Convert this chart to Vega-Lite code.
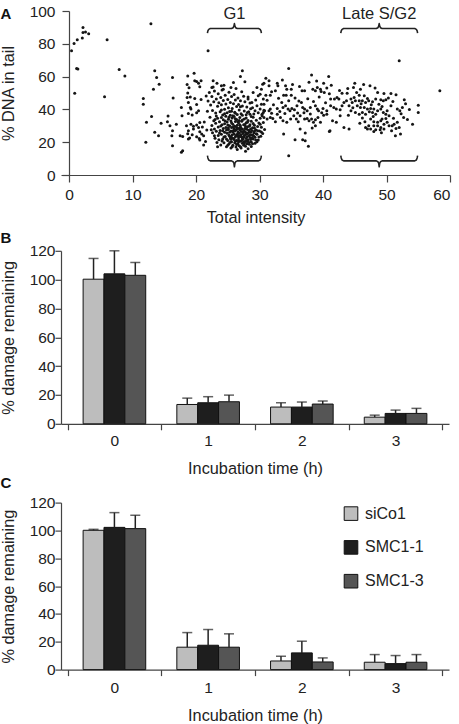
{
  "$schema": "https://vega.github.io/schema/vega-lite/v6.json",
  "padding": {"left": 0, "top": 4, "right": 4, "bottom": 0},
  "config": {
    "font": "Liberation Sans",
    "view": {"stroke": null},
    "axis": {"grid": false, "labelOverlap": false, "labelFontSize": 15.5, "titleFontSize": 16.3, "titleFontWeight": "normal", "labelColor": "#222", "titleColor": "#222", "domainColor": "#444", "tickColor": "#444", "domainWidth": 1.2, "tickWidth": 1.2, "tickSize": 6},
    "title": {"fontSize": 15, "fontWeight": "bold", "anchor": "start", "color": "#111", "frame": "bounds"},
    "legend": {"labelFontSize": 16, "labelColor": "#222", "symbolType": "square", "symbolSize": 185, "symbolStrokeColor": "#111", "symbolStrokeWidth": 1, "rowPadding": 15.8, "labelOffset": 6, "padding": 0}
  },
  "datasets": {
    "scatter": [
      {"intensity":0.4,"dna":75.7},{"intensity":0.8,"dna":80.2},{"intensity":1.3,"dna":82.4},{"intensity":2.2,"dna":89.9},{"intensity":2.2,"dna":86.9},{"intensity":2.6,"dna":87.2},{"intensity":3.1,"dna":86.2},{"intensity":2.1,"dna":83.5},{"intensity":1.2,"dna":64.9},{"intensity":1.4,"dna":64.6},{"intensity":0.9,"dna":49.9},{"intensity":6.0,"dna":82.4},{"intensity":5.6,"dna":47.7},{"intensity":7.9,"dna":64.3},{"intensity":8.8,"dna":60.4},{"intensity":12.9,"dna":92.3},{"intensity":11.7,"dna":46.7},{"intensity":11.7,"dna":43.2},{"intensity":13.5,"dna":63.5},{"intensity":13.8,"dna":59.5},{"intensity":13.3,"dna":52.3},{"intensity":14.2,"dna":55.4},{"intensity":12.1,"dna":19.9},{"intensity":12.2,"dna":32.1},{"intensity":13.0,"dna":35.7},{"intensity":13.5,"dna":26.0},{"intensity":14.1,"dna":23.9},{"intensity":14.5,"dna":31.5},{"intensity":16.3,"dna":59.5},{"intensity":16.4,"dna":46.9},{"intensity":15.5,"dna":32.4},{"intensity":15.9,"dna":30.0},{"intensity":16.3,"dna":27.0},{"intensity":16.2,"dna":24.0},{"intensity":16.3,"dna":17.8},{"intensity":16.9,"dna":31.0},{"intensity":17.7,"dna":41.2},{"intensity":17.8,"dna":36.1},{"intensity":17.5,"dna":23.9},{"intensity":17.7,"dna":13.8},{"intensity":15.6,"dna":36.0},{"intensity":17.9,"dna":23.5},
      {"intensity":18.7,"dna":60.4},{"intensity":18.6,"dna":55.2},{"intensity":18.9,"dna":53.2},{"intensity":19.7,"dna":62.0},{"intensity":20.8,"dna":57.4},{"intensity":20.1,"dna":57.0},{"intensity":20.6,"dna":53.8},{"intensity":18.7,"dna":50.0},{"intensity":19.1,"dna":47.5},{"intensity":19.2,"dna":40.3},{"intensity":18.8,"dna":37.5},{"intensity":19.4,"dna":36.6},{"intensity":20.1,"dna":43.0},{"intensity":20.8,"dna":46.0},{"intensity":20.1,"dna":38.0},{"intensity":19.2,"dna":31.0},{"intensity":19.6,"dna":29.8},{"intensity":20.1,"dna":30.5},{"intensity":18.7,"dna":25.1},{"intensity":19.0,"dna":22.6},{"intensity":19.4,"dna":24.6},{"intensity":20.1,"dna":23.3},{"intensity":20.5,"dna":22.3},{"intensity":20.6,"dna":26.4},{"intensity":21.0,"dna":29.3},{"intensity":21.3,"dna":32.3},{"intensity":20.6,"dna":21.3},{"intensity":21.2,"dna":24.0},{"intensity":21.5,"dna":20.5},{"intensity":21.2,"dna":18.3},{"intensity":21.7,"dna":27.5},
      {"intensity":19.8,"dna":57.4},{"intensity":20.4,"dna":56.0},{"intensity":22.7,"dna":57.4},{"intensity":22.5,"dna":53.4},{"intensity":24.0,"dna":54.4},{"intensity":24.3,"dna":52.3},{"intensity":25.9,"dna":56.4},{"intensity":27.3,"dna":63.5},{"intensity":27.0,"dna":60.1},{"intensity":27.7,"dna":56.8},{"intensity":29.6,"dna":53.4},{"intensity":30.5,"dna":55.4},{"intensity":30.3,"dna":52.3},{"intensity":30.1,"dna":49.3},{"intensity":30.6,"dna":46.3},{"intensity":18.6,"dna":47.3},{"intensity":18.8,"dna":44.2},{"intensity":19.8,"dna":46.7},{"intensity":19.1,"dna":41.2},{"intensity":20.4,"dna":39.2},{"intensity":18.5,"dna":30.0},{"intensity":18.8,"dna":27.0},{"intensity":19.6,"dna":28.0},{"intensity":20.4,"dna":29.0},{"intensity":20.6,"dna":32.0},{"intensity":20.9,"dna":25.0},{"intensity":18.8,"dna":22.0},{"intensity":17.9,"dna":14.8},{"intensity":21.9,"dna":75.7},
      {"intensity":21.6,"dna":48.2},{"intensity":21.9,"dna":45.1},{"intensity":22.1,"dna":50.3},{"intensity":22.3,"dna":42.7},{"intensity":22.5,"dna":47.8},{"intensity":22.6,"dna":39.4},{"intensity":22.8,"dna":44.6},{"intensity":22.9,"dna":51.2},{"intensity":23.1,"dna":37.8},{"intensity":23.2,"dna":46.3},{"intensity":23.4,"dna":41.9},{"intensity":23.5,"dna":49.6},{"intensity":23.6,"dna":44.0},{"intensity":23.8,"dna":38.5},{"intensity":23.9,"dna":47.2},{"intensity":24.0,"dna":42.8},{"intensity":24.1,"dna":51.9},{"intensity":24.2,"dna":36.6},{"intensity":24.3,"dna":45.5},{"intensity":24.5,"dna":40.1},{"intensity":24.6,"dna":48.7},{"intensity":24.7,"dna":43.3},{"intensity":24.9,"dna":37.9},{"intensity":25.0,"dna":46.1},{"intensity":25.1,"dna":41.0},{"intensity":25.2,"dna":50.4},{"intensity":25.3,"dna":38.7},{"intensity":25.4,"dna":44.2},{"intensity":25.6,"dna":47.9},{"intensity":25.7,"dna":40.6},{"intensity":25.8,"dna":36.2},{"intensity":25.9,"dna":43.5},{"intensity":26.0,"dna":49.1},{"intensity":26.1,"dna":38.3},{"intensity":26.2,"dna":45.8},{"intensity":26.4,"dna":41.7},{"intensity":26.5,"dna":36.9},{"intensity":26.6,"dna":47.0},{"intensity":26.7,"dna":43.0},{"intensity":26.8,"dna":39.6},{"intensity":27.0,"dna":45.3},{"intensity":27.1,"dna":37.4},{"intensity":27.2,"dna":50.8},{"intensity":27.3,"dna":42.1},{"intensity":27.5,"dna":48.0},{"intensity":27.6,"dna":39.0},{"intensity":27.7,"dna":44.7},{"intensity":27.9,"dna":36.8},{"intensity":28.0,"dna":41.5},{"intensity":28.2,"dna":47.5},{"intensity":28.3,"dna":38.6},{"intensity":28.5,"dna":43.9},{"intensity":22.2,"dna":35.2},{"intensity":23.0,"dna":33.8},{"intensity":21.8,"dna":38.9},{"intensity":22.7,"dna":53.6},{"intensity":24.4,"dna":54.8},{"intensity":26.3,"dna":52.7},{"intensity":25.5,"dna":53.4},{"intensity":23.3,"dna":55.9},
      {"intensity":22.5,"dna":30.2},{"intensity":22.6,"dna":25.8},{"intensity":22.8,"dna":33.1},{"intensity":22.9,"dna":28.0},{"intensity":23.0,"dna":22.4},{"intensity":23.1,"dna":31.5},{"intensity":23.2,"dna":26.7},{"intensity":23.3,"dna":19.8},{"intensity":23.4,"dna":34.6},{"intensity":23.5,"dna":24.1},{"intensity":23.5,"dna":29.3},
      {"intensity":23.6,"dna":21.5},{"intensity":23.7,"dna":32.4},{"intensity":23.8,"dna":27.2},{"intensity":23.9,"dna":18.3},{"intensity":24.0,"dna":35.1},{"intensity":24.0,"dna":24.9},{"intensity":24.1,"dna":30.6},{"intensity":24.2,"dna":22.0},{"intensity":24.3,"dna":28.4},{"intensity":24.3,"dna":33.7},{"intensity":24.4,"dna":19.6},{"intensity":24.5,"dna":26.1},{"intensity":24.5,"dna":31.2},
      {"intensity":24.6,"dna":23.4},{"intensity":24.7,"dna":35.8},{"intensity":24.7,"dna":29.0},{"intensity":24.8,"dna":17.2},{"intensity":24.9,"dna":25.5},{"intensity":24.9,"dna":32.3},{"intensity":25.0,"dna":21.1},{"intensity":25.1,"dna":27.8},{"intensity":25.1,"dna":34.0},{"intensity":25.2,"dna":19.0},{"intensity":25.2,"dna":24.3},{"intensity":25.3,"dna":30.1},{"intensity":25.4,"dna":22.6},{"intensity":25.4,"dna":36.5},{"intensity":25.5,"dna":26.8},{"intensity":25.5,"dna":32.9},{"intensity":25.5,"dna":16.4},
      {"intensity":25.6,"dna":20.2},{"intensity":25.6,"dna":28.9},{"intensity":25.7,"dna":24.6},{"intensity":25.7,"dna":34.7},{"intensity":25.8,"dna":18.1},{"intensity":25.8,"dna":31.0},{"intensity":25.9,"dna":22.3},{"intensity":25.9,"dna":27.1},{"intensity":26.0,"dna":35.6},{"intensity":26.0,"dna":25.0},{"intensity":26.1,"dna":19.7},{"intensity":26.1,"dna":29.8},{"intensity":26.2,"dna":23.2},{"intensity":26.2,"dna":32.6},{"intensity":26.3,"dna":17.0},{"intensity":26.3,"dna":27.4},{"intensity":26.4,"dna":21.0},{"intensity":26.4,"dna":33.9},{"intensity":26.5,"dna":24.8},{"intensity":26.5,"dna":30.4},{"intensity":26.5,"dna":15.6},
      {"intensity":26.6,"dna":19.1},{"intensity":26.6,"dna":26.2},{"intensity":26.7,"dna":22.7},{"intensity":26.7,"dna":31.8},{"intensity":26.8,"dna":28.5},{"intensity":26.8,"dna":17.9},{"intensity":26.9,"dna":24.0},{"intensity":26.9,"dna":35.0},{"intensity":27.0,"dna":20.6},{"intensity":27.0,"dna":29.9},{"intensity":27.1,"dna":26.6},{"intensity":27.1,"dna":16.5},{"intensity":27.2,"dna":23.1},{"intensity":27.2,"dna":32.8},{"intensity":27.3,"dna":19.4},{"intensity":27.3,"dna":27.9},{"intensity":27.4,"dna":21.8},{"intensity":27.4,"dna":25.3},{"intensity":27.5,"dna":30.7},{"intensity":27.5,"dna":18.2},
      {"intensity":27.6,"dna":23.9},{"intensity":27.6,"dna":34.1},{"intensity":27.7,"dna":20.4},{"intensity":27.7,"dna":28.3},{"intensity":27.8,"dna":26.0},{"intensity":27.8,"dna":17.5},{"intensity":27.9,"dna":31.9},{"intensity":27.9,"dna":22.2},{"intensity":28.0,"dna":19.0},{"intensity":28.0,"dna":25.1},{"intensity":28.1,"dna":29.4},{"intensity":28.2,"dna":21.5},{"intensity":28.2,"dna":33.3},{"intensity":28.3,"dna":24.0},{"intensity":28.3,"dna":27.3},{"intensity":28.4,"dna":18.8},{"intensity":28.5,"dna":30.6},{"intensity":28.5,"dna":22.9},
      {"intensity":28.6,"dna":26.1},{"intensity":28.7,"dna":20.1},{"intensity":28.7,"dna":32.7},{"intensity":28.8,"dna":24.4},{"intensity":28.9,"dna":28.8},{"intensity":29.0,"dna":21.9},{"intensity":29.0,"dna":35.2},{"intensity":29.1,"dna":25.7},{"intensity":29.2,"dna":30.3},{"intensity":29.3,"dna":23.0},{"intensity":29.3,"dna":19.3},{"intensity":29.4,"dna":27.6},{"intensity":29.5,"dna":33.4},
      {"intensity":29.6,"dna":24.8},{"intensity":29.7,"dna":29.6},{"intensity":29.8,"dna":21.4},{"intensity":29.9,"dna":31.7},{"intensity":30.0,"dna":26.9},{"intensity":30.1,"dna":34.6},{"intensity":30.2,"dna":23.6},{"intensity":30.3,"dna":29.1},{"intensity":30.5,"dna":25.3},{"intensity":30.6,"dna":32.0},{"intensity":30.8,"dna":27.8},{"intensity":30.4,"dna":37.0},{"intensity":29.8,"dna":37.9},{"intensity":30.7,"dna":39.5},
      {"intensity":25.3,"dna":23.7},{"intensity":25.8,"dna":26.3},{"intensity":26.2,"dna":20.4},{"intensity":26.6,"dna":24.0},{"intensity":26.9,"dna":27.6},{"intensity":27.3,"dna":22.5},{"intensity":27.6,"dna":26.9},{"intensity":28.0,"dna":23.3},{"intensity":28.4,"dna":26.4},{"intensity":28.8,"dna":22.6},{"intensity":26.0,"dna":28.2},{"intensity":26.7,"dna":21.3},{"intensity":27.1,"dna":24.6},{"intensity":27.8,"dna":29.6},{"intensity":28.6,"dna":28.0},{"intensity":29.2,"dna":26.7},{"intensity":25.5,"dna":21.8},{"intensity":26.4,"dna":28.9},{"intensity":27.5,"dna":20.0},{"intensity":28.1,"dna":20.8},{"intensity":29.0,"dna":24.2},{"intensity":26.8,"dna":33.2},{"intensity":27.9,"dna":34.7},{"intensity":28.7,"dna":17.4},{"intensity":29.6,"dna":20.3},{"intensity":25.1,"dna":28.8},{"intensity":27.8,"dna":14.5},{"intensity":28.2,"dna":16.0},
      {"intensity":23.7,"dna":25.6},{"intensity":23.9,"dna":29.9},{"intensity":24.1,"dna":20.8},{"intensity":24.2,"dna":27.0},{"intensity":24.4,"dna":23.2},{"intensity":24.6,"dna":33.0},{"intensity":24.8,"dna":21.9},{"intensity":24.8,"dna":27.5},{"intensity":25.0,"dna":30.5},{"intensity":25.0,"dna":18.2},{"intensity":25.2,"dna":35.2},{"intensity":25.3,"dna":26.1},{"intensity":25.4,"dna":20.0},{"intensity":25.6,"dna":23.0},{"intensity":25.6,"dna":31.8},{"intensity":25.7,"dna":17.3},{"intensity":25.9,"dna":29.4},{"intensity":26.0,"dna":21.6},{"intensity":26.1,"dna":26.8},{"intensity":26.2,"dna":34.3},{"intensity":26.3,"dna":24.1},{"intensity":26.4,"dna":18.6},{"intensity":26.5,"dna":28.1},{"intensity":26.6,"dna":32.4},{"intensity":26.7,"dna":20.2},{"intensity":26.8,"dna":25.4},{"intensity":26.9,"dna":30.6},{"intensity":27.0,"dna":17.2},{"intensity":27.0,"dna":23.5},{"intensity":27.1,"dna":28.7},{"intensity":27.2,"dna":21.0},{"intensity":27.3,"dna":33.5},{"intensity":27.4,"dna":26.3},{"intensity":27.5,"dna":23.0},{"intensity":27.6,"dna":19.1},{"intensity":27.7,"dna":30.8},{"intensity":27.8,"dna":24.7},{"intensity":27.9,"dna":20.6},{"intensity":28.0,"dna":27.9},{"intensity":28.1,"dna":32.2},{"intensity":28.2,"dna":25.6},{"intensity":28.3,"dna":19.9},{"intensity":28.4,"dna":29.8},{"intensity":28.5,"dna":24.6},{"intensity":28.6,"dna":21.6},{"intensity":28.7,"dna":35.6},{"intensity":28.8,"dna":27.2},{"intensity":28.9,"dna":19.0},{"intensity":29.0,"dna":31.4},{"intensity":29.1,"dna":23.6},{"intensity":29.2,"dna":28.6},{"intensity":29.4,"dna":21.3},{"intensity":29.5,"dna":25.1},{"intensity":29.7,"dna":27.0},{"intensity":29.9,"dna":23.1},{"intensity":30.1,"dna":30.9},{"intensity":30.3,"dna":26.2},{"intensity":24.5,"dna":37.4},{"intensity":25.6,"dna":38.9},{"intensity":27.3,"dna":36.4},{"intensity":28.1,"dna":38.1},{"intensity":26.2,"dna":37.6},{"intensity":23.2,"dna":36.0},{"intensity":24.0,"dna":39.7},{"intensity":29.1,"dna":37.2},{"intensity":28.6,"dna":40.4},{"intensity":27.0,"dna":41.6},{"intensity":22.9,"dna":23.9},{"intensity":23.4,"dna":17.2},{"intensity":22.4,"dna":27.6},
      {"intensity":28.2,"dna":46.3},{"intensity":28.8,"dna":44.2},{"intensity":29.6,"dna":42.2},{"intensity":30.1,"dna":40.2},{"intensity":30.6,"dna":38.1},{"intensity":29.8,"dna":48.3},{"intensity":29.0,"dna":50.3},{"intensity":30.3,"dna":43.2},{"intensity":29.3,"dna":39.2},{"intensity":28.5,"dna":37.1},{"intensity":28.9,"dna":41.0},{"intensity":29.4,"dna":45.7},
      {"intensity":30.7,"dna":56.0},{"intensity":31.5,"dna":57.4},{"intensity":31.5,"dna":54.4},{"intensity":32.8,"dna":56.0},{"intensity":32.9,"dna":54.4},{"intensity":32.5,"dna":51.3},{"intensity":31.9,"dna":50.7},{"intensity":31.0,"dna":48.7},{"intensity":31.7,"dna":48.7},{"intensity":34.1,"dna":54.4},{"intensity":34.3,"dna":52.3},{"intensity":35.0,"dna":52.3},{"intensity":33.8,"dna":48.7},{"intensity":34.2,"dna":48.7},{"intensity":35.0,"dna":48.7},{"intensity":36.7,"dna":51.3},{"intensity":37.1,"dna":51.3},{"intensity":38.4,"dna":52.3},{"intensity":38.8,"dna":51.3},{"intensity":39.1,"dna":53.4},{"intensity":39.6,"dna":52.3},{"intensity":39.7,"dna":50.9},{"intensity":40.2,"dna":50.3},{"intensity":40.6,"dna":53.0},{"intensity":41.3,"dna":54.8},{"intensity":41.2,"dna":46.3},{"intensity":41.8,"dna":46.3},{"intensity":42.2,"dna":47.3},{"intensity":42.5,"dna":46.3},{"intensity":43.0,"dna":49.9},
      {"intensity":30.7,"dna":43.2},{"intensity":30.8,"dna":39.2},{"intensity":31.5,"dna":39.2},{"intensity":31.7,"dna":40.2},{"intensity":32.8,"dna":40.6},{"intensity":33.5,"dna":44.2},{"intensity":33.7,"dna":41.2},{"intensity":34.1,"dna":42.2},{"intensity":34.5,"dna":40.2},{"intensity":34.8,"dna":39.2},{"intensity":35.1,"dna":40.6},{"intensity":35.5,"dna":39.8},{"intensity":35.9,"dna":42.2},{"intensity":36.6,"dna":44.2},{"intensity":36.8,"dna":41.2},{"intensity":37.1,"dna":40.2},{"intensity":37.5,"dna":39.2},{"intensity":38.0,"dna":41.2},{"intensity":38.8,"dna":42.2},{"intensity":39.1,"dna":40.2},{"intensity":39.3,"dna":39.2},{"intensity":40.0,"dna":40.6},{"intensity":40.6,"dna":39.2},{"intensity":41.2,"dna":42.2},{"intensity":41.7,"dna":41.2},{"intensity":42.1,"dna":40.2},{"intensity":42.7,"dna":39.8},{"intensity":43.0,"dna":42.2},
      {"intensity":30.4,"dna":36.1},{"intensity":30.7,"dna":35.1},{"intensity":31.2,"dna":34.1},{"intensity":31.7,"dna":35.1},{"intensity":32.1,"dna":34.5},{"intensity":32.5,"dna":32.5},{"intensity":32.8,"dna":37.1},{"intensity":33.3,"dna":35.1},{"intensity":33.7,"dna":33.1},{"intensity":34.3,"dna":32.1},{"intensity":34.9,"dna":34.1},{"intensity":35.4,"dna":36.1},{"intensity":35.8,"dna":34.1},{"intensity":36.1,"dna":32.5},{"intensity":36.4,"dna":36.1},{"intensity":37.1,"dna":34.1},{"intensity":37.5,"dna":34.5},{"intensity":37.8,"dna":33.1},{"intensity":38.2,"dna":34.1},{"intensity":38.5,"dna":32.1},{"intensity":38.8,"dna":33.7},{"intensity":39.2,"dna":35.1},{"intensity":39.6,"dna":32.1},{"intensity":40.1,"dna":36.5},{"intensity":40.6,"dna":37.1},{"intensity":41.5,"dna":33.1},{"intensity":42.1,"dna":32.1},{"intensity":42.7,"dna":36.1},
      {"intensity":33.8,"dna":25.0},{"intensity":35.6,"dna":21.5},{"intensity":36.4,"dna":28.0},{"intensity":36.8,"dna":21.5},{"intensity":37.2,"dna":25.6},{"intensity":37.7,"dna":17.5},{"intensity":38.3,"dna":28.6},{"intensity":38.8,"dna":30.0},{"intensity":41.1,"dna":27.0},{"intensity":34.6,"dna":11.8},{"intensity":37.2,"dna":20.9},{"intensity":41.0,"dna":26.6},
      {"intensity":31.2,"dna":45.6},{"intensity":32.2,"dna":42.9},{"intensity":33.0,"dna":46.8},{"intensity":34.6,"dna":45.3},{"intensity":35.6,"dna":47.0},{"intensity":36.2,"dna":45.1},{"intensity":37.6,"dna":46.5},{"intensity":38.5,"dna":44.8},{"intensity":39.4,"dna":47.6},{"intensity":40.4,"dna":44.0},{"intensity":41.0,"dna":49.5},{"intensity":36.0,"dna":37.8},{"intensity":37.0,"dna":38.0},{"intensity":38.0,"dna":37.2},{"intensity":39.8,"dna":38.0},{"intensity":33.2,"dna":38.7},{"intensity":34.0,"dna":37.5},{"intensity":31.9,"dna":37.6},{"intensity":35.2,"dna":55.2},{"intensity":36.3,"dna":54.0},{"intensity":37.8,"dna":56.6},{"intensity":39.0,"dna":57.3},{"intensity":40.1,"dna":56.0},{"intensity":33.6,"dna":57.9},{"intensity":31.0,"dna":59.0},
      {"intensity":34.6,"dna":64.9},{"intensity":38.2,"dna":61.0},{"intensity":40.9,"dna":60.1},{"intensity":52.0,"dna":69.6},{"intensity":58.4,"dna":51.3},
      {"intensity":44.8,"dna":53.4},{"intensity":43.8,"dna":49.9},{"intensity":45.3,"dna":50.3},{"intensity":45.9,"dna":52.3},{"intensity":47.4,"dna":54.4},{"intensity":48.6,"dna":50.3},{"intensity":49.6,"dna":49.7},{"intensity":50.7,"dna":49.7},{"intensity":46.5,"dna":48.3},{"intensity":47.0,"dna":46.7},{"intensity":45.7,"dna":48.7},{"intensity":44.9,"dna":47.3},{"intensity":44.4,"dna":46.3},{"intensity":43.7,"dna":45.2},{"intensity":43.3,"dna":44.2},{"intensity":44.1,"dna":42.2},{"intensity":44.6,"dna":44.2},{"intensity":45.1,"dna":45.2},{"intensity":45.7,"dna":45.2},{"intensity":46.2,"dna":45.2},{"intensity":46.7,"dna":44.2},{"intensity":47.2,"dna":45.2},{"intensity":47.8,"dna":44.6},{"intensity":48.3,"dna":46.3},{"intensity":49.1,"dna":45.9},{"intensity":49.5,"dna":45.2},{"intensity":49.9,"dna":45.9},{"intensity":52.8,"dna":45.9},{"intensity":55.0,"dna":42.6},{"intensity":55.0,"dna":38.1},{"intensity":50.7,"dna":42.2},{"intensity":51.7,"dna":40.2},{"intensity":52.1,"dna":39.2},{"intensity":52.5,"dna":41.2},{"intensity":45.4,"dna":42.2},{"intensity":45.9,"dna":41.2},{"intensity":46.5,"dna":41.2},{"intensity":47.0,"dna":40.2},{"intensity":47.5,"dna":40.6},{"intensity":48.0,"dna":40.2},{"intensity":48.6,"dna":39.2},{"intensity":49.1,"dna":40.2},{"intensity":49.5,"dna":38.1},{"intensity":50.1,"dna":39.2},{"intensity":49.9,"dna":37.1},{"intensity":44.4,"dna":39.2},{"intensity":45.1,"dna":38.1},{"intensity":45.7,"dna":37.1},{"intensity":46.2,"dna":38.1},{"intensity":46.7,"dna":37.1},{"intensity":47.3,"dna":38.5},{"intensity":47.8,"dna":38.1},{"intensity":48.3,"dna":37.1},{"intensity":50.4,"dna":36.1},{"intensity":49.9,"dna":34.5},{"intensity":49.3,"dna":34.1},{"intensity":49.1,"dna":33.1},{"intensity":48.6,"dna":32.1},{"intensity":48.0,"dna":32.5},{"intensity":47.5,"dna":34.1},{"intensity":48.0,"dna":30.0},{"intensity":48.6,"dna":30.0},{"intensity":49.1,"dna":29.0},{"intensity":49.6,"dna":31.0},{"intensity":50.1,"dna":32.1},{"intensity":50.4,"dna":30.0},{"intensity":47.2,"dna":30.0},{"intensity":46.7,"dna":29.0},{"intensity":47.0,"dna":28.0},{"intensity":47.5,"dna":28.0},{"intensity":48.3,"dna":27.6},{"intensity":49.0,"dna":27.6},{"intensity":49.6,"dna":28.0},{"intensity":50.9,"dna":30.0},{"intensity":51.2,"dna":31.0},{"intensity":51.7,"dna":32.1},{"intensity":52.0,"dna":29.0},{"intensity":52.7,"dna":35.1},{"intensity":54.1,"dna":31.0},{"intensity":51.4,"dna":24.0},{"intensity":52.2,"dna":25.0},{"intensity":45.8,"dna":31.6},{"intensity":44.1,"dna":28.0},{"intensity":43.3,"dna":29.0},
      {"intensity":42.6,"dna":51.5},{"intensity":43.9,"dna":52.8},{"intensity":46.4,"dna":55.2},{"intensity":45.0,"dna":56.0},{"intensity":48.2,"dna":53.0},{"intensity":51.5,"dna":49.0},{"intensity":50.3,"dna":47.0},{"intensity":51.0,"dna":44.8},{"intensity":48.8,"dna":43.2},{"intensity":46.0,"dna":43.4},{"intensity":44.7,"dna":41.0},{"intensity":47.6,"dna":42.9},{"intensity":49.3,"dna":41.7},{"intensity":44.0,"dna":36.5},{"intensity":46.2,"dna":34.8},{"intensity":47.9,"dna":35.7},{"intensity":51.1,"dna":34.6},{"intensity":52.3,"dna":37.4},{"intensity":53.0,"dna":43.5},{"intensity":53.6,"dna":39.9},{"intensity":46.6,"dna":32.4},{"intensity":50.8,"dna":27.0},{"intensity":49.2,"dna":25.8},{"intensity":48.0,"dna":26.5},{"intensity":51.5,"dna":28.3},{"intensity":53.3,"dna":33.8}
    ],
    "braces": [
      {"brace":"g1top","order":1,"intensity":21.8,"dna":86.5},{"brace":"g1top","order":2,"intensity":21.87,"dna":87.9},{"brace":"g1top","order":3,"intensity":22.0,"dna":88.8},{"brace":"g1top","order":4,"intensity":22.25,"dna":89.3},{"brace":"g1top","order":5,"intensity":25.6,"dna":89.3},{"brace":"g1top","order":6,"intensity":25.85,"dna":89.8},{"brace":"g1top","order":7,"intensity":25.98,"dna":90.9},{"brace":"g1top","order":8,"intensity":26.05,"dna":92.3},{"brace":"g1top","order":9,"intensity":26.12,"dna":90.9},{"brace":"g1top","order":10,"intensity":26.25,"dna":89.8},{"brace":"g1top","order":11,"intensity":26.5,"dna":89.3},{"brace":"g1top","order":12,"intensity":29.85,"dna":89.3},{"brace":"g1top","order":13,"intensity":30.1,"dna":88.8},{"brace":"g1top","order":14,"intensity":30.23,"dna":87.9},{"brace":"g1top","order":15,"intensity":30.3,"dna":86.5},
      {"brace":"g1bot","order":1,"intensity":21.8,"dna":11.8},{"brace":"g1bot","order":2,"intensity":21.87,"dna":10.4},{"brace":"g1bot","order":3,"intensity":22.0,"dna":9.1},{"brace":"g1bot","order":4,"intensity":22.25,"dna":8.6},{"brace":"g1bot","order":5,"intensity":25.6,"dna":8.6},{"brace":"g1bot","order":6,"intensity":25.85,"dna":8.1},{"brace":"g1bot","order":7,"intensity":25.98,"dna":7.0},{"brace":"g1bot","order":8,"intensity":26.05,"dna":5.0},{"brace":"g1bot","order":9,"intensity":26.12,"dna":7.0},{"brace":"g1bot","order":10,"intensity":26.25,"dna":8.1},{"brace":"g1bot","order":11,"intensity":26.5,"dna":8.6},{"brace":"g1bot","order":12,"intensity":29.85,"dna":8.6},{"brace":"g1bot","order":13,"intensity":30.1,"dna":9.1},{"brace":"g1bot","order":14,"intensity":30.23,"dna":10.4},{"brace":"g1bot","order":15,"intensity":30.3,"dna":11.8},
      {"brace":"lstop","order":1,"intensity":42.8,"dna":86.5},{"brace":"lstop","order":2,"intensity":42.87,"dna":87.9},{"brace":"lstop","order":3,"intensity":43.0,"dna":88.8},{"brace":"lstop","order":4,"intensity":43.25,"dna":89.3},{"brace":"lstop","order":5,"intensity":48.4,"dna":89.3},{"brace":"lstop","order":6,"intensity":48.65,"dna":89.8},{"brace":"lstop","order":7,"intensity":48.78,"dna":90.9},{"brace":"lstop","order":8,"intensity":48.85,"dna":92.3},{"brace":"lstop","order":9,"intensity":48.92,"dna":90.9},{"brace":"lstop","order":10,"intensity":49.05,"dna":89.8},{"brace":"lstop","order":11,"intensity":49.3,"dna":89.3},{"brace":"lstop","order":12,"intensity":54.45,"dna":89.3},{"brace":"lstop","order":13,"intensity":54.7,"dna":88.8},{"brace":"lstop","order":14,"intensity":54.83,"dna":87.9},{"brace":"lstop","order":15,"intensity":54.9,"dna":86.5},
      {"brace":"lsbot","order":1,"intensity":42.8,"dna":11.8},{"brace":"lsbot","order":2,"intensity":42.87,"dna":10.4},{"brace":"lsbot","order":3,"intensity":43.0,"dna":9.1},{"brace":"lsbot","order":4,"intensity":43.25,"dna":8.6},{"brace":"lsbot","order":5,"intensity":48.4,"dna":8.6},{"brace":"lsbot","order":6,"intensity":48.65,"dna":8.1},{"brace":"lsbot","order":7,"intensity":48.78,"dna":7.0},{"brace":"lsbot","order":8,"intensity":48.85,"dna":5.0},{"brace":"lsbot","order":9,"intensity":48.92,"dna":7.0},{"brace":"lsbot","order":10,"intensity":49.05,"dna":8.1},{"brace":"lsbot","order":11,"intensity":49.3,"dna":8.6},{"brace":"lsbot","order":12,"intensity":54.45,"dna":8.6},{"brace":"lsbot","order":13,"intensity":54.7,"dna":9.1},{"brace":"lsbot","order":14,"intensity":54.83,"dna":10.4},{"brace":"lsbot","order":15,"intensity":54.9,"dna":11.8}
    ],
    "phaseLabels": [
      {"label":"G1","intensity":26.05,"dna":98.4},
      {"label":"Late S/G2","intensity":48.85,"dna":98.4}
    ],
    "damageB": [
      {"time":"0","group":"siCo1","value":100.3,"upper":114.7},
      {"time":"0","group":"SMC1-1","value":104.0,"upper":120.0},
      {"time":"0","group":"SMC1-3","value":103.0,"upper":111.9},
      {"time":"1","group":"siCo1","value":13.4,"upper":17.8},
      {"time":"1","group":"SMC1-1","value":14.6,"upper":18.8},
      {"time":"1","group":"SMC1-3","value":15.3,"upper":19.9},
      {"time":"2","group":"siCo1","value":11.6,"upper":14.6},
      {"time":"2","group":"SMC1-1","value":11.6,"upper":15.1},
      {"time":"2","group":"SMC1-3","value":13.7,"upper":15.8},
      {"time":"3","group":"siCo1","value":4.6,"upper":6.0},
      {"time":"3","group":"SMC1-1","value":7.2,"upper":9.5},
      {"time":"3","group":"SMC1-3","value":7.2,"upper":10.7}
    ],
    "damageC": [
      {"time":"0","group":"siCo1","value":100.1,"upper":100.8},
      {"time":"0","group":"SMC1-1","value":102.2,"upper":112.8},
      {"time":"0","group":"SMC1-3","value":101.3,"upper":110.9},
      {"time":"1","group":"siCo1","value":16.1,"upper":26.6},
      {"time":"1","group":"SMC1-1","value":17.5,"upper":28.8},
      {"time":"1","group":"SMC1-3","value":16.1,"upper":25.7},
      {"time":"2","group":"siCo1","value":6.2,"upper":9.6},
      {"time":"2","group":"SMC1-1","value":12.0,"upper":20.4},
      {"time":"2","group":"SMC1-3","value":5.5,"upper":8.4},
      {"time":"3","group":"siCo1","value":5.3,"upper":10.8},
      {"time":"3","group":"SMC1-1","value":4.3,"upper":10.1},
      {"time":"3","group":"SMC1-3","value":5.3,"upper":10.8}
    ]
  },
  "concat": [
    {
      "title": {"text": "A", "offset": -18},
      "width": 389,
      "height": 164,
      "encoding": {
        "x": {"field": "intensity", "type": "quantitative", "scale": {"domain": [-1.26, 60], "nice": false}, "axis": {"title": ["Total intensity", " "], "titleLineHeight": 6, "values": [0,10,20,30,40,50,60], "labelOverlap": false, "tickSize": 7, "labelPadding": 5, "titlePadding": 7}},
        "y": {"field": "dna", "type": "quantitative", "scale": {"domain": [0, 100], "nice": false}, "axis": {"title": "% DNA in tail", "offset": -8, "values": [0,20,40,60,80,100], "labelOverlap": false, "tickSize": 7, "labelPadding": 7, "titlePadding": 12.7}}
      },
      "layer": [
        {
          "data": {"name": "scatter"},
          "mark": {"type": "circle", "size": 9, "color": "#151515", "opacity": 1}
        },
        {
          "data": {"name": "braces"},
          "mark": {"type": "line", "color": "#222", "strokeWidth": 1.6, "strokeJoin": "round"},
          "encoding": {
            "detail": {"field": "brace"},
            "order": {"field": "order", "type": "quantitative"}
          }
        },
        {
          "data": {"name": "phaseLabels"},
          "mark": {"type": "text", "fontSize": 16.5, "color": "#222", "baseline": "middle"},
          "encoding": {
            "text": {"field": "label"}
          }
        }
      ]
    },
    {
      "title": {"text": "B", "offset": -2},
      "width": 388,
      "height": 173,
      "data": {"name": "damageB"},
      "encoding": {
        "x": {"field": "time", "type": "nominal", "scale": {"paddingInner": 0, "paddingOuter": 0.07}, "axis": {"title": "Incubation time (h)", "labelAngle": 0, "tickBand": "extent", "tickSize": 6, "labelPadding": 3.2, "titlePadding": 11.5}},
        "xOffset": {"field": "group", "type": "nominal", "scale": {"domain": ["siCo1", "SMC1-1", "SMC1-3"], "paddingInner": 0, "paddingOuter": 0.745}},
        "y": {"field": "value", "type": "quantitative", "scale": {"domain": [0, 120], "nice": false}, "axis": {"title": "% damage remaining", "values": [0,20,40,60,80,100,120], "labelOverlap": false, "tickSize": 6, "labelPadding": 0, "titlePadding": 12.7}}
      },
      "layer": [
        {
          "mark": {"type": "bar", "stroke": "#111", "strokeWidth": 1},
          "encoding": {
            "color": {"field": "group", "type": "nominal", "scale": {"domain": ["siCo1", "SMC1-1", "SMC1-3"], "range": ["#bdbdbd", "#1e1e1e", "#555555"]}, "legend": null}
          }
        },
        {
          "mark": {"type": "rule", "color": "#222", "strokeWidth": 1.5},
          "encoding": {"y2": {"field": "upper"}}
        },
        {
          "mark": {"type": "tick", "orient": "horizontal", "size": 10, "thickness": 1.5, "color": "#222"},
          "encoding": {"y": {"field": "upper", "type": "quantitative", "axis": {"title": "% damage remaining", "values": [0,20,40,60,80,100,120], "labelOverlap": false, "tickSize": 6, "labelPadding": 0, "titlePadding": 12.7}}}
        }
      ]
    },
    {
      "title": {"text": "C", "offset": 5},
      "width": 388,
      "height": 167,
      "data": {"name": "damageC"},
      "encoding": {
        "x": {"field": "time", "type": "nominal", "scale": {"paddingInner": 0, "paddingOuter": 0.07}, "axis": {"title": "Incubation time (h)", "labelAngle": 0, "tickBand": "extent", "tickSize": 6, "labelPadding": 4.5, "titlePadding": 11.5}},
        "xOffset": {"field": "group", "type": "nominal", "scale": {"domain": ["siCo1", "SMC1-1", "SMC1-3"], "paddingInner": 0, "paddingOuter": 0.745}},
        "y": {"field": "value", "type": "quantitative", "scale": {"domain": [0, 120], "nice": false}, "axis": {"title": "% damage remaining", "values": [0,20,40,60,80,100,120], "labelOverlap": false, "tickSize": 6, "labelPadding": 0, "titlePadding": 12.7}}
      },
      "layer": [
        {
          "mark": {"type": "bar", "stroke": "#111", "strokeWidth": 1},
          "encoding": {
            "color": {"field": "group", "type": "nominal", "scale": {"domain": ["siCo1", "SMC1-1", "SMC1-3"], "range": ["#bdbdbd", "#1e1e1e", "#555555"]}, "legend": {"title": null, "orient": "none", "legendX": 282, "legendY": 3}}
          }
        },
        {
          "mark": {"type": "rule", "color": "#222", "strokeWidth": 1.5},
          "encoding": {"y2": {"field": "upper"}}
        },
        {
          "mark": {"type": "tick", "orient": "horizontal", "size": 10, "thickness": 1.5, "color": "#222"},
          "encoding": {"y": {"field": "upper", "type": "quantitative", "axis": {"title": "% damage remaining", "values": [0,20,40,60,80,100,120], "labelOverlap": false, "tickSize": 6, "labelPadding": 0, "titlePadding": 12.7}}}
        }
      ]
    }
  ],
  "columns": 1,
  "spacing": -1.2,
  "align": "none",
  "resolve": {"scale": {"color": "independent"}, "legend": {"color": "independent"}}
}
